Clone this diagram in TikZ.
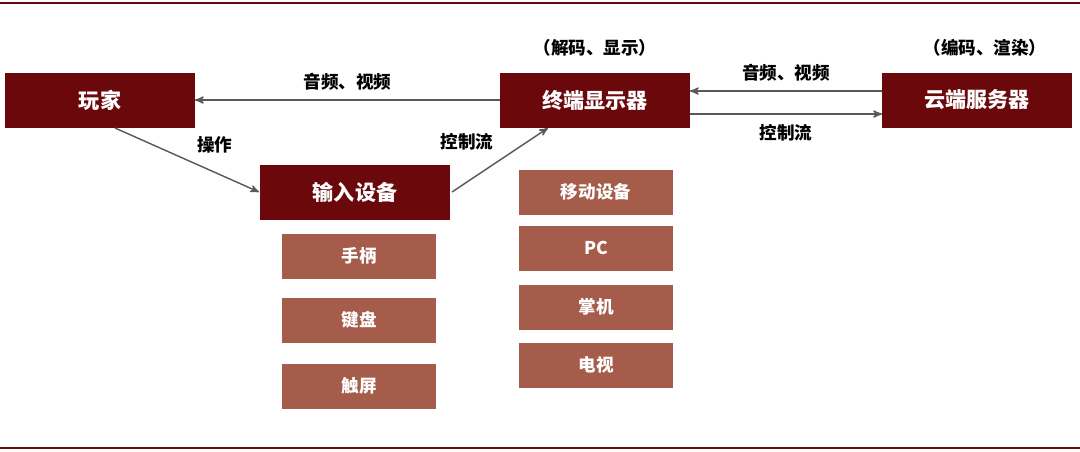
\documentclass[tikz,border=0pt]{standalone}
\usepackage{fontspec}
\newfontfamily\cjk{Noto Sans CJK SC}
\usetikzlibrary{arrows,positioning}
\definecolor{darkred}{RGB}{107,8,12}
\definecolor{lightred}{RGB}{166,92,75}

\begin{document}
\begin{tikzpicture}[x=0.02cm,y=-0.02cm,
	mainbox/.style={fill=darkred,text=white,minimum width=3.8cm,minimum height=1.1cm,inner sep=0pt,font=\cjk\bfseries\large},
	subbox/.style={fill=lightred,text=white,minimum width=3.1cm,minimum height=0.9cm,inner sep=0pt,font=\cjk\bfseries},
	lbl/.style={font=\cjk\bfseries,text=black},
	link/.style={->,>=stealth',draw=gray!70!black,thick}
]
\useasboundingbox (0,0) rectangle (1080,451);
\draw[darkred,line width=1pt] (0,3) -- (1080,3);
\draw[darkred,line width=1pt] (0,448) -- (1080,448);
%
\node[mainbox] (player) at (100,100) {玩家};
\node[mainbox] (screen) at (595,100) {终端显示器};
\node[mainbox] (cloud) at (977,100) {云端服务器};
\node[mainbox] (input) at (355,192) {输入设备};
%
\node[subbox] (pad) at (359,256) {手柄};
\node[subbox] (keys) at (359,320) {键盘};
\node[subbox] (touch) at (359,386) {触屏};
\node[subbox] (mobile) at (596,192) {移动设备};
\node[subbox] (pc) at (596,248) {\bfseries PC};
\node[subbox] (handheld) at (596,307) {掌机};
\node[subbox] (tv) at (596,365) {电视};
%
\node[lbl] at (595,48) {（解码、显示）};
\node[lbl] at (985,48) {（编码、渲染）};
%
\coordinate (s1) at (500,100);
\coordinate (p1) at (195,100);
\coordinate (p2) at (115,128);
\coordinate (i1) at (259,192);
\coordinate (i2) at (452,192);
\coordinate (s2) at (548,128);
\coordinate (c1) at (882,91);
\coordinate (s3) at (690,91);
\coordinate (s4) at (690,114);
\coordinate (c2) at (882,114);
%
\draw[link] (s1) -- node[lbl,above=2pt] {音频、视频} (p1);
\draw[link] (p2) -- node[lbl,above right=0pt and 2pt] {操作} (i1);
\draw[link] (i2) -- node[lbl,above left=2pt and 0pt] {控制流} (s2);
\draw[link] (c1) -- node[lbl,above=2pt] {音频、视频} (s3);
\draw[link] (s4) -- node[lbl,below=2pt] {控制流} (c2);
\end{tikzpicture}
\end{document}
